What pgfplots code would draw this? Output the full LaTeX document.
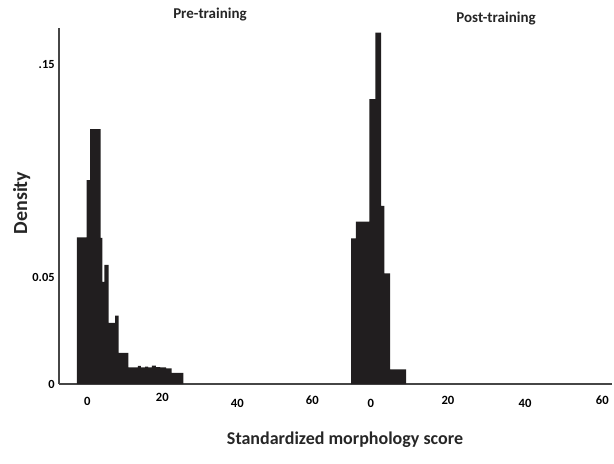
\documentclass[border=0pt]{standalone}
\usepackage{pgfplots}
\pgfplotsset{compat=1.18}
\usepackage{fontspec}
\setmainfont{Carlito}
\definecolor{barc}{RGB}{33,30,31}
\definecolor{axc}{RGB}{70,70,70}
\pgfplotsset{
  hist/.style={scale only axis, height=178pt, ymin=0, ymax=0.1674,
    axis x line*=bottom, axis line style={axc, line width=0.9pt},
    major tick length=0pt, tick style={draw=none},
    xtick={0,20,40,60},
    xticklabel style={font=\bfseries\fontsize{6.3}{7}\selectfont, anchor=base, yshift=-10.5pt},
    clip=false},
}
\begin{document}
\begin{tikzpicture}
\path[use as bounding box] (0,0) rectangle (307pt,231.5pt);
% Pre-training
\begin{axis}[hist, at={(29.5pt,39.5pt)}, anchor=south west, width=140.5pt,
  xmin=-7.55, xmax=67.4,
  axis y line*=left,
  xticklabels={0,\raisebox{2pt}{20},\raisebox{-1pt}{40},\raisebox{0.5pt}{60}},
  ytick={0,0.05,0.15},
  yticklabels={{0\hspace{8.5pt}},{0.05\hspace{8.5pt}},{.15}},
  yticklabel style={font=\bfseries\fontsize{6.2}{7}\selectfont, anchor=east, inner sep=0pt, xshift=-2pt},
]
\addplot[fill=barc, draw=none, const plot] coordinates {
(-2.75,0.0689) (-0.16,0.0959) (0.72,0.1199) (3.57,0.0687) (4.00,0.0480)
(4.53,0.0560) (5.71,0.0287) (7.39,0.0322) (8.37,0.0146) (10.93,0.0078)
(13.52,0.0085) (14.32,0.0078) (15.39,0.0082) (16.19,0.0078) (17.25,0.0087)
(18.32,0.0080) (19.39,0.0078) (20.99,0.0073) (22.51,0.0052) (25.60,0.0052)
} \closedcycle;
\end{axis}
% Post-training
\begin{axis}[hist, at={(170pt,39.5pt)}, anchor=south west, width=136pt,
  xmin=-7.95, xmax=62.5,
  hide y axis,
  xticklabels={\raisebox{-1pt}{0},\raisebox{0.5pt}{20},\raisebox{-1pt}{40},\raisebox{0.5pt}{60}},
]
\addplot[fill=barc, draw=none, const plot] coordinates {
(-5.10,0.0685) (-3.81,0.0763) (-0.36,0.1340) (1.19,0.1652) (2.67,0.0838)
(3.52,0.0520) (5.00,0.0069) (9.15,0.0069)
} \closedcycle;
\end{axis}
\node[font=\bfseries\fontsize{7.5}{9}\selectfont, text=black!85] at (105pt,224pt) {Pre-training};
\node[font=\bfseries\fontsize{7.5}{9}\selectfont, text=black!85] at (248pt,222pt) {Post-training};
\node[font=\bfseries\fontsize{10}{12}\selectfont, text=black!85, rotate=90] at (10.8pt,130pt) {Density};
\node[font=\bfseries\fontsize{9}{11}\selectfont, text=black!85] at (172.5pt,11.5pt) {Standardized morphology score};
\end{tikzpicture}
\end{document}
